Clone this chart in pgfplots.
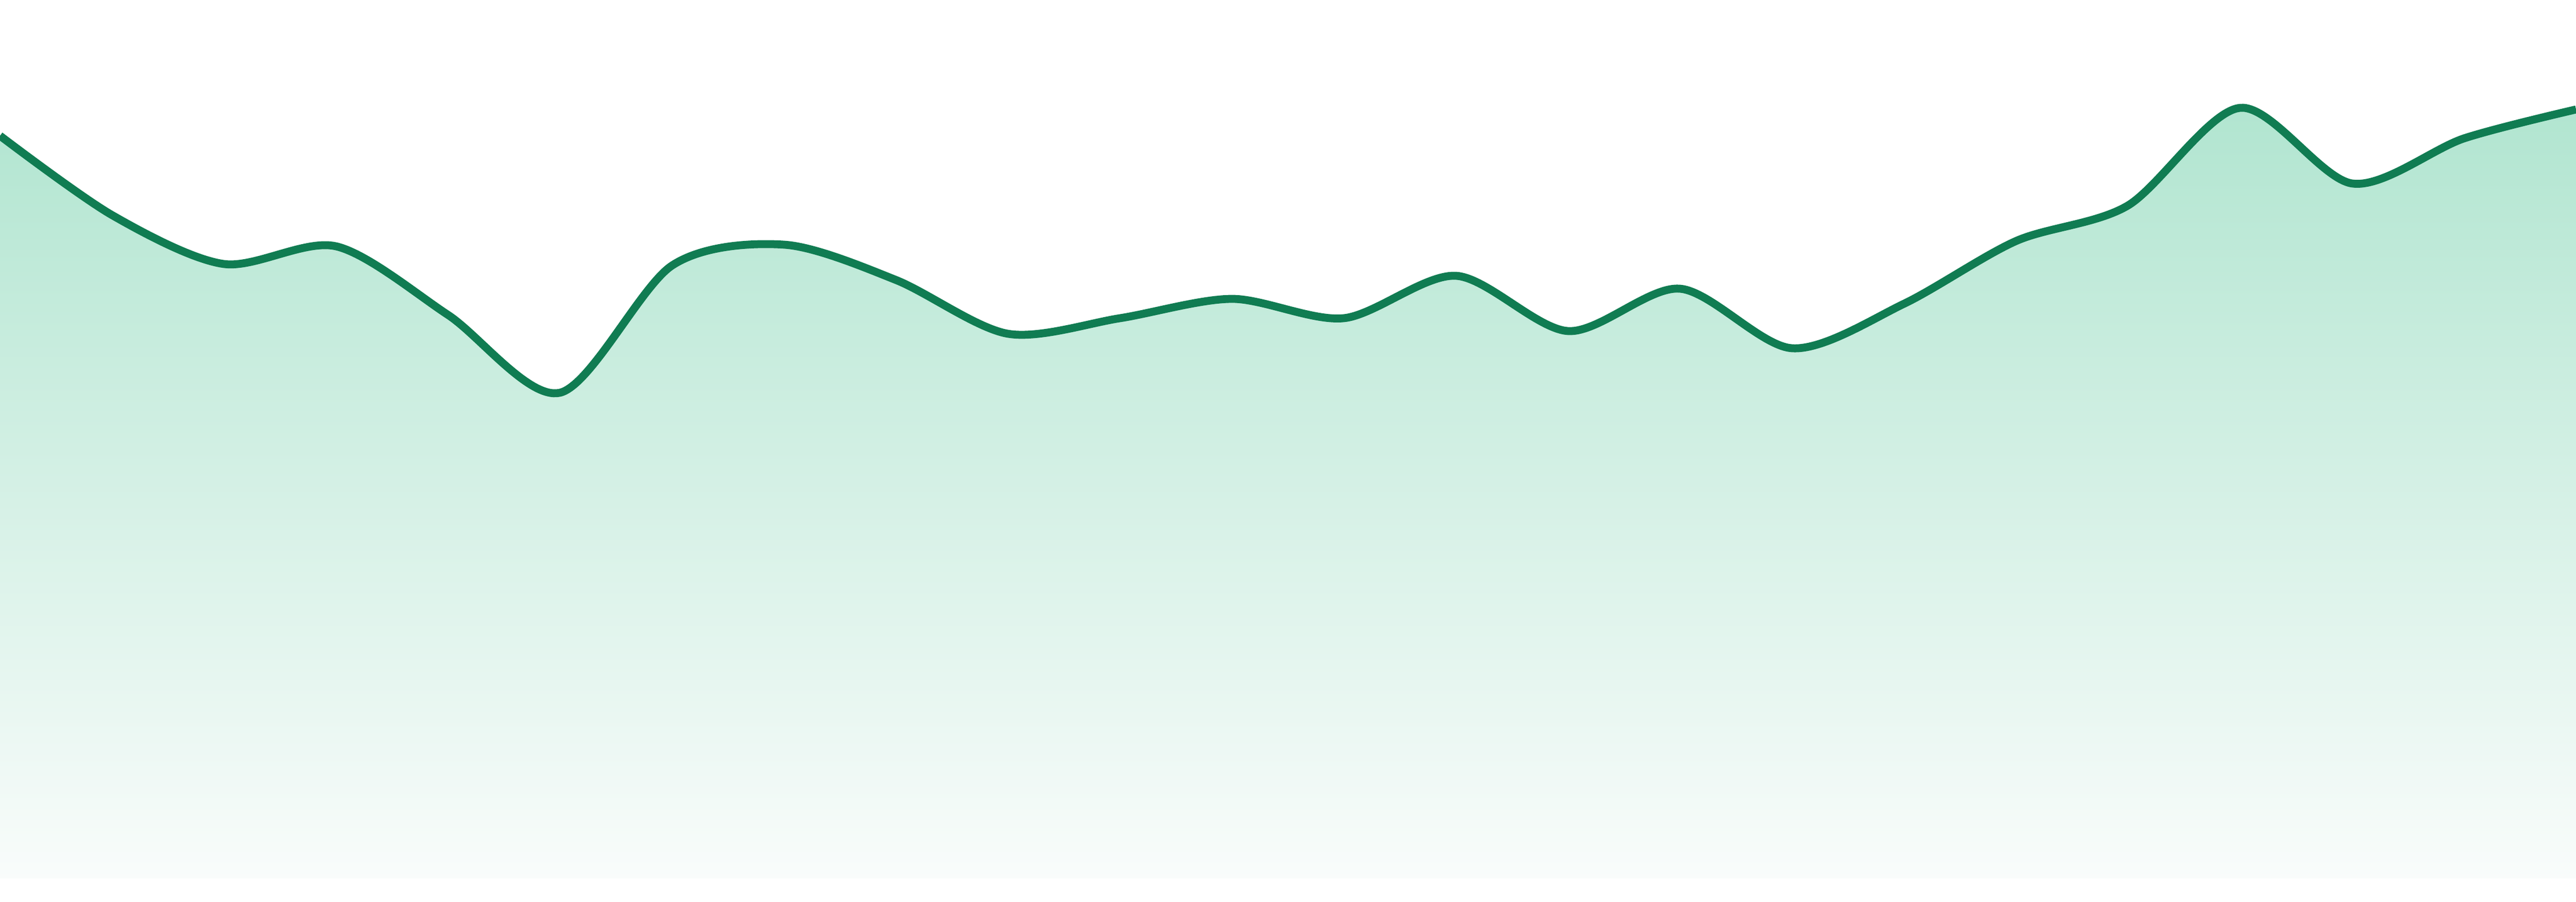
\documentclass[border=0pt]{standalone}
\usepackage{pgfplots}
\pgfplotsset{compat=1.18}
\definecolor{linec}{RGB}{16,124,82}
\definecolor{topc}{RGB}{177,229,208}
\definecolor{botc}{RGB}{249,252,251}
\pgfplotstableread{
x y
0 1384
209 1236
417 1145
626 1178
835 1050
1043 905
1252 1142
1461 1181
1670 1115
1878 1015
2087 1044
2296 1080
2504 1044
2713 1123
2922 1020
3130 1099
3339 988
3548 1071
3757 1188
3965 1254
4174 1436
4383 1295
4591 1379
4800 1433
}\datatab
\begin{document}
\begin{tikzpicture}
\begin{axis}[
  width=16cm, height=5.6cm, scale only axis,
  xmin=0, xmax=4800, ymin=-43, ymax=1637,
  axis line style={draw=none}, xtick=\empty, ytick=\empty,
  clip=true,
]
\path (rel axis cs:0,0) rectangle (rel axis cs:1,1);
\addplot[draw=none, top color=topc, bottom color=botc, smooth, tension=0.5] table[x=x,y=y] {\datatab} \closedcycle;
\addplot[linec, line width=1.4pt, smooth, tension=0.5] table[x=x,y=y] {\datatab};
\end{axis}
\end{tikzpicture}
\end{document}
